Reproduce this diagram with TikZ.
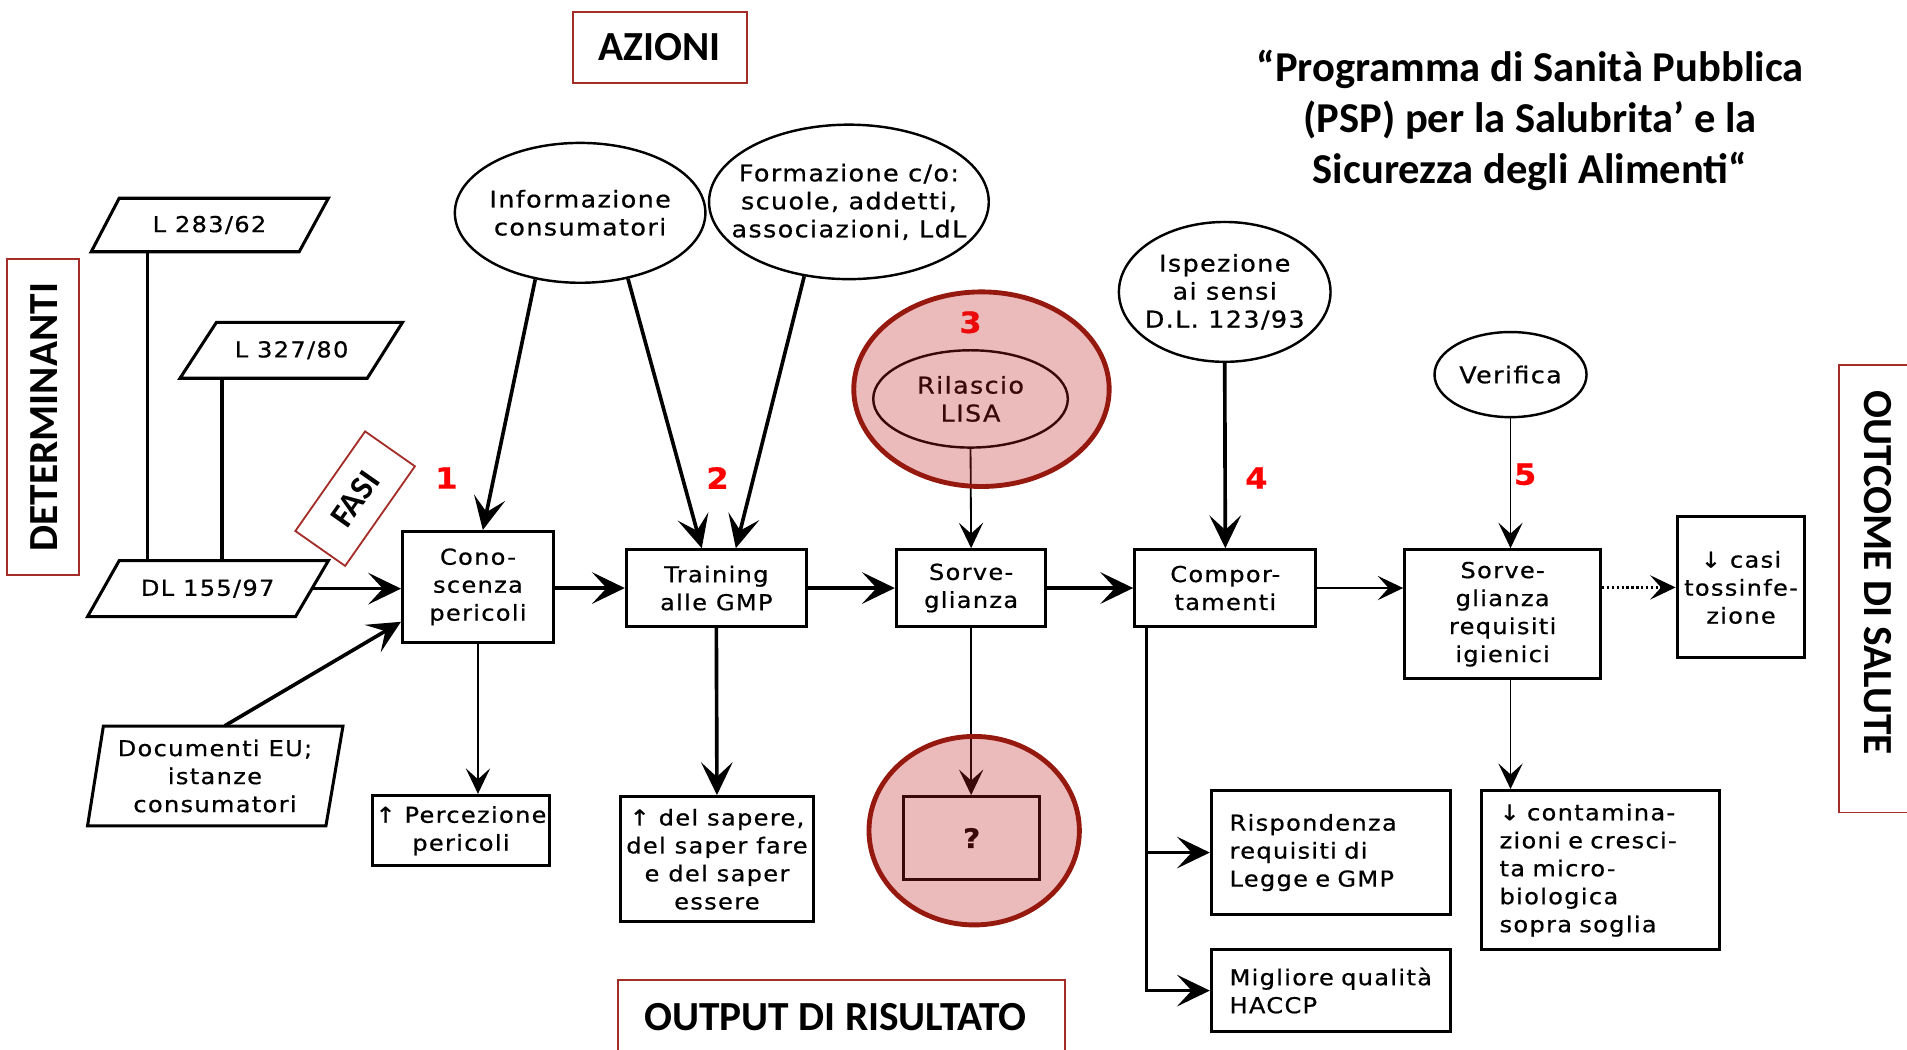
\documentclass[tikz,border=0pt]{standalone}
\usepackage{fontspec}
\usetikzlibrary{arrows.meta,shapes.geometric}
\newfontfamily\diag{DejaVu Sans}[FakeStretch=1.1,LetterSpace=6,FakeBold=0.7]
\newfontfamily\calfont{Carlito}
\definecolor{framered}{RGB}{165,45,40}
\definecolor{ringred}{RGB}{150,25,15}
\definecolor{pinkfill}{RGB}{190,30,30}
\begin{document}
\begin{tikzpicture}[x=1pt,y=-1pt,
  box/.style={draw, line width=2.5pt, inner sep=0pt, align=center, font=\diag\fontsize{18}{23}\selectfont},
  lbox/.style={box, align=left, text width=#1, inner xsep=15pt},
  ell/.style={draw, ellipse, line width=2pt, inner sep=0pt, fill=white},
  etxt/.style={align=center, inner sep=0pt, font=\diag\fontsize{19}{23}\selectfont},
  ptxt/.style={align=center, inner sep=0pt, font=\diag\fontsize{18}{23}\selectfont},
  para/.style={line width=2.5pt, line join=miter},
  lab/.style={draw=framered, line width=1.5pt, inner sep=0pt, font=\calfont\bfseries\fontsize{34}{40}\selectfont},
  num/.style={text=red, font=\diag\bfseries\fontsize{24}{26}\selectfont, inner sep=0pt},
  ring/.style={draw=ringred, line width=4pt, fill=pinkfill, fill opacity=0.3, ellipse, inner sep=0pt},
  arrowhd/.style={-{Stealth[length=27pt,width=26pt,inset=12pt]}},
  arrowsm/.style={-{Stealth[length=21pt,width=20pt,inset=9pt]}},
  thk/.style={line width=3pt},
  thn/.style={line width=1.5pt}]
\useasboundingbox (0,0) rectangle (1568,863);

% ---------- labels ----------
\node[lab, minimum width=143, minimum height=58] (azioni) at (542.5,39) {AZIONI};
\draw[draw=framered, line width=1.5pt] (6,213) rectangle (65,473);
\node[inner sep=0pt, rotate=90, font=\calfont\bfseries\fontsize{34}{40}\selectfont] (determ) at (36,343) {DETERMINANTI};
\draw[draw=framered, line width=1.5pt] (1590,300) -- (1512,300) -- (1512,668) -- (1590,668);
\node[inner sep=0pt, rotate=-90, font=\calfont\bfseries\fontsize{34}{40}\selectfont] (outcome) at (1544,471) {OUTCOME DI SALUTE};
\draw[draw=framered, line width=1.5pt] (508,880) -- (508,806) -- (876,806) -- (876,880);
\node[inner sep=0pt, font=\calfont\bfseries\fontsize{34}{40}\selectfont] (output) at (687,836) {OUTPUT DI RISULTATO};
\node[lab, rotate=55, minimum width=100, minimum height=50, font=\calfont\bfseries\fontsize{28}{32}\selectfont] (fasi) at (292,410) {FASI};
\node[align=center, inner sep=0pt, font=\calfont\bfseries\fontsize{35}{42}\selectfont] (title) at (1258,99)
  {“Programma di Sanità Pubblica\\(PSP) per la Salubrita’ e la\\Sicurezza degli Alimenti“};

% ---------- parallelograms ----------
\draw[para] (98,163) -- (270,163) -- (246,207) -- (75,207) -- cycle;
\node[ptxt, minimum width=171.5, minimum height=44] (l283) at (172.25,185) {L 283/62};
\draw[para] (178,265) -- (331,265) -- (302,311) -- (148,311) -- cycle;
\node[ptxt, minimum width=153.5, minimum height=46] (l327) at (239.75,288) {L 327/80};
\draw[para] (98,461) -- (270,461) -- (243,507) -- (72,507) -- cycle;
\node[ptxt, minimum width=171.5, minimum height=46] (dl) at (170.75,484) {DL 155/97};
\draw[para] (85,597) -- (282,597) -- (268,679) -- (72,679) -- cycle;
\node[ptxt, minimum width=196.5, minimum height=82] (doc) at (176.75,638) {Documenti EU;\\istanze\\consumatori};

% ---------- boxes ----------
\node[box, minimum width=124, minimum height=91] (cono) at (393,482.5) {Cono-\\scenza\\pericoli};
\node[box, minimum width=148, minimum height=63] (train) at (589,483.5) {Training\\alle GMP};
\node[box, minimum width=123, minimum height=63] (sorve) at (798.5,483.5) {Sorve-\\glianza};
\node[box, minimum width=149, minimum height=63] (compor) at (1007.5,483.5) {Compor-\\tamenti};
\node[box, minimum width=161, minimum height=106] (sreq) at (1235.5,505) {Sorve-\\glianza\\requisiti\\igienici};
\node[box, minimum width=105, minimum height=116] (casi) at (1431.5,483) {↓ casi\\tossinfe-\\zione};
\node[box, minimum width=146, minimum height=58] (perc) at (379,683) {↑ Percezione\\pericoli};
\node[box, minimum width=159, minimum height=103] (sapere) at (589.5,706.5) {↑ del sapere,\\del saper fare\\e del saper\\essere};
\node[box, minimum width=112, minimum height=68, font=\diag\bfseries\fontsize{22}{26}\selectfont] (qbox) at (799,689) {?};
\node[lbox=167, minimum height=102] (risp) at (1094.5,701) {Rispondenza\\requisiti di\\Legge e GMP};
\node[lbox=167, minimum height=67] (migl) at (1094.5,814.5) {Migliore qualità\\HACCP};
\node[lbox=166, minimum height=131] (contam) at (1316,715.5) {↓ contamina-\\zioni e cresci-\\ta micro-\\biologica\\sopra soglia};

% ---------- ellipses ----------
\node[ell, minimum width=206, minimum height=115] (info) at (477,175) {};
\node[etxt] (infot) at (info) {Informazione\\consumatori};
\node[ell, minimum width=230, minimum height=127] (form) at (698,166) {};
\node[etxt] (formt) at (form) {Formazione c/o:\\scuole, addetti,\\associazioni, LdL};
\node[ell, minimum width=160, minimum height=80] (ril) at (798,328) {};
\node[etxt] (rilt) at (ril) {Rilascio\\LISA};
\node[ell, minimum width=174, minimum height=115] (isp) at (1007,240) {};
\node[etxt] (ispt) at (isp) {Ispezione\\ai sensi\\D.L. 123/93};
\node[ell, minimum width=125, minimum height=70] (ver) at (1242,308) {};
\node[etxt] (vert) at (ver) {Verifica};

% ---------- numbers ----------
\node[num] (n1) at (367,393) {1};
\node[num] (n2) at (590,393) {2};
\node[num] (n3) at (798,265) {3};
\node[num] (n4) at (1033,393) {4};
\node[num] (n5) at (1254,390) {5};

% ---------- connectors ----------
\draw[thk] ([xshift=-51]l283.south) -- ([xshift=-51]l283.south |- dl.north);
\draw[thk] ([xshift=-57]l327.south) -- ([xshift=-57]l327.south |- dl.north);
\draw[thk,arrowhd] (dl.east) -- (dl.east -| cono.west);
\draw[thk,arrowhd] ([xshift=8]doc.north) -- ([yshift=18]cono.south west);

\draw[thk,arrowhd] (info.236.3) -- ([xshift=4]cono.north);
\draw[thk,arrowhd] (info.306.2) -- ([xshift=-12]train.north);
\draw[thk,arrowhd] (form.239.9) -- ([xshift=16]train.north);
\draw[thn,arrowsm] (ril.south) -- (sorve.north);
\draw[thk,arrowhd] (isp.south) -- (compor.north);
\draw[thn,arrowsm] (ver.south) -- ([xshift=6.5]sreq.north);

\draw[thk,arrowhd] (cono.east |- train.west) -- (train.west);
\draw[thk,arrowhd] (train.east) -- (sorve.west);
\draw[thk,arrowhd] (sorve.east) -- (compor.west);
\draw[thn,arrowsm] (compor.east) -- (compor.east -| sreq.west);
\draw[line width=2pt, dash pattern=on 2pt off 2pt, arrowsm] (sreq.east |- casi.west) -- (casi.west);

\draw[thn,arrowsm] (cono.south) -- (cono.south |- perc.north);
\draw[thk,arrowhd] (train.south) -- (sapere.north);
\draw[thn,arrowsm] (sorve.south) -- (sorve.south |- qbox.north);
\draw[thk,arrowhd] ([xshift=11]compor.south west) |- (migl.west);
\draw[thk,arrowhd] ([xshift=11]compor.south west |- risp.west) -- (risp.west);
\draw[thn,arrowsm] ([xshift=6.5]sreq.south) -- ([xshift=6.5]sreq.south |- contam.north);

% ---------- highlight rings ----------
\node[ring, minimum width=210, minimum height=160] (ring3) at (807,320) {};
\node[ring, minimum width=173, minimum height=155] (ringq) at (801,683) {};
\end{tikzpicture}
\end{document}
